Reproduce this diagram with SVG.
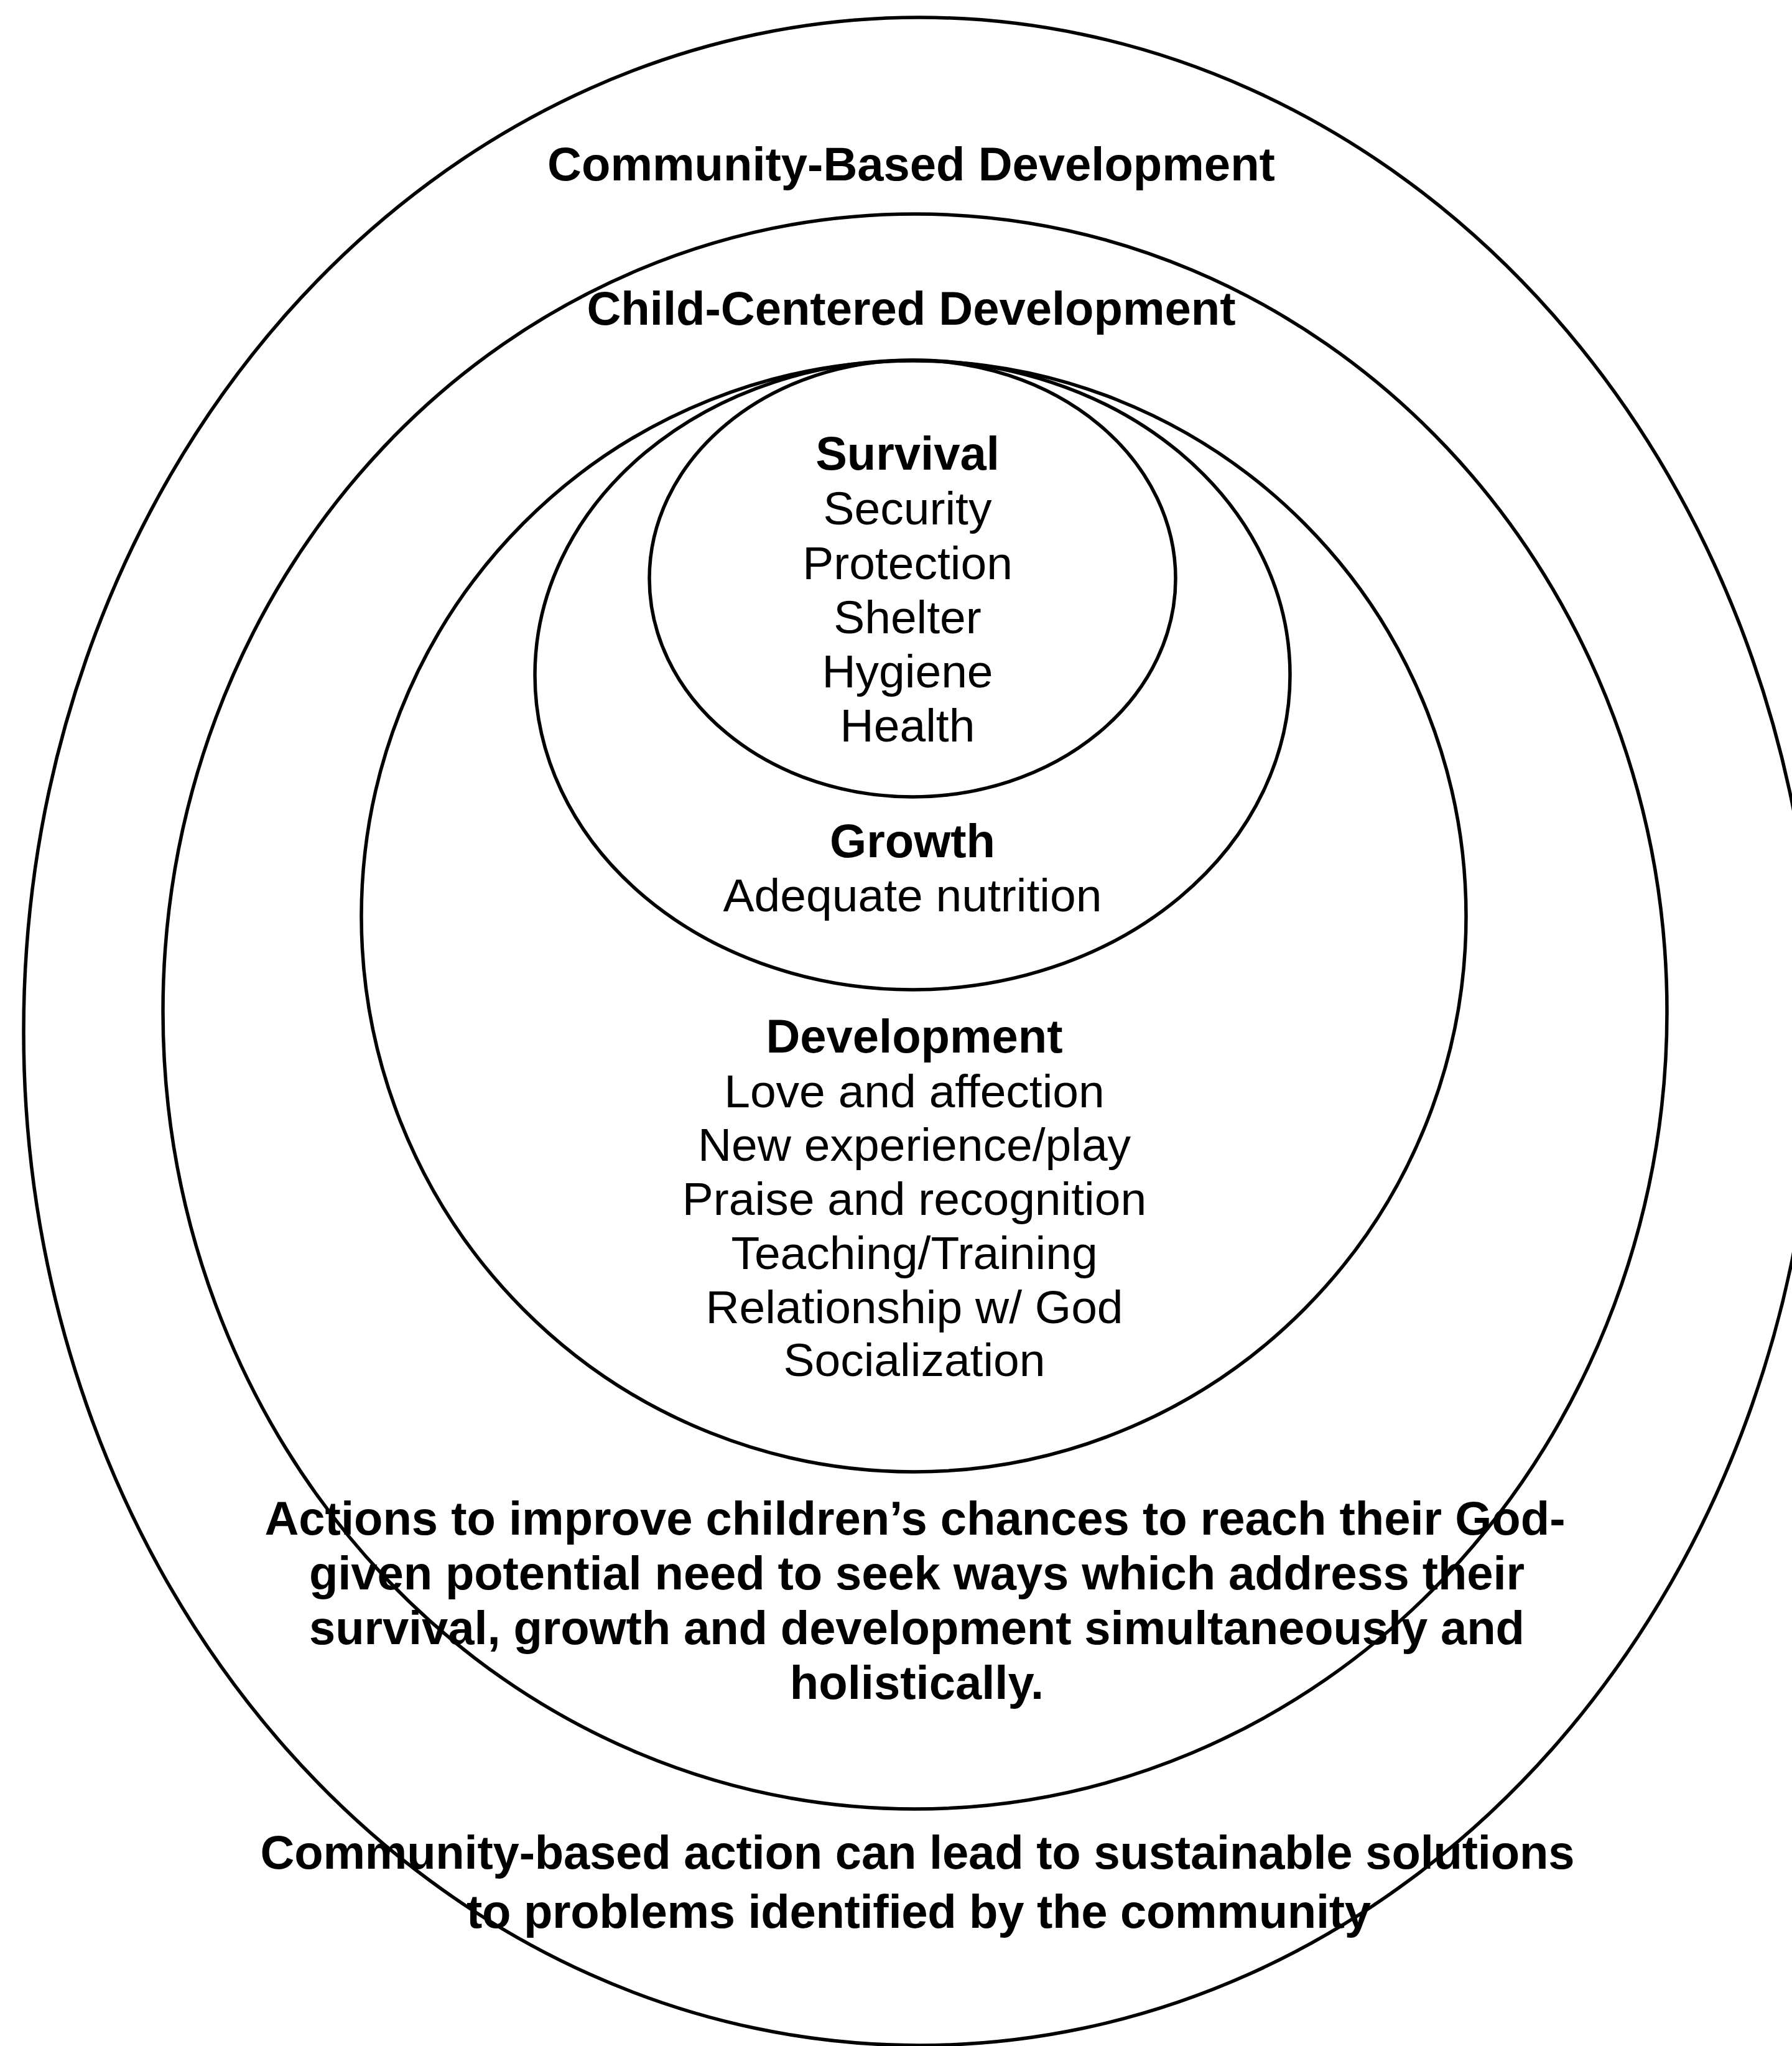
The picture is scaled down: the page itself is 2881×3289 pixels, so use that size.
<svg xmlns="http://www.w3.org/2000/svg" width="2881" height="3289" viewBox="0 0 2881 3289">
<style>
.ring{fill:none;stroke:#000;stroke-width:5.5}
text{font-family:"Liberation Sans",Arial,sans-serif;fill:#000;text-anchor:middle}
.b{font-weight:bold;font-size:76px}
.r{font-size:75px}
</style>
<rect x="0" y="0" width="2881" height="3289" fill="#fff"/>
<g id="community-based">
<ellipse class="ring" cx="1478" cy="1658" rx="1440" ry="1630"/>
<text class="b" x="1465" y="290">Community-Based Development</text>
<text class="b" x="1475" y="3004" textLength="2113" lengthAdjust="spacing">Community-based action can lead to sustainable solutions</text>
<text class="b" x="1477" y="3099" textLength="1454" lengthAdjust="spacing">to problems identified by the community</text>
</g>
<g id="child-centered">
<ellipse class="ring" cx="1471" cy="1626" rx="1209" ry="1282"/>
<text class="b" x="1465" y="522">Child-Centered Development</text>
<text class="b" x="1471" y="2467" textLength="2091" lengthAdjust="spacing">Actions to improve children’s chances to reach their God-</text>
<text class="b" x="1474" y="2555" textLength="1954" lengthAdjust="spacing">given potential need to seek ways which address their</text>
<text class="b" x="1474" y="2643" textLength="1954" lengthAdjust="spacing">survival, growth and development simultaneously and</text>
<text class="b" x="1474" y="2731">holistically.</text>
</g>
<g id="development">
<ellipse class="ring" cx="1469" cy="1473" rx="888" ry="893"/>
<text class="b" x="1470" y="1692">Development</text>
<text class="r" x="1470" y="1780">Love and affection</text>
<text class="r" x="1470" y="1866">New experience/play</text>
<text class="r" x="1470" y="1953">Praise and recognition</text>
<text class="r" x="1470" y="2040">Teaching/Training</text>
<text class="r" x="1470" y="2127">Relationship w/ God</text>
<text class="r" x="1470" y="2212">Socialization</text>
</g>
<g id="growth">
<ellipse class="ring" cx="1467" cy="1085" rx="607" ry="506"/>
<text class="b" x="1467" y="1378">Growth</text>
<text class="r" x="1467" y="1465">Adequate nutrition</text>
</g>
<g id="survival">
<ellipse class="ring" cx="1467" cy="930" rx="423" ry="351"/>
<text class="b" x="1459" y="755">Survival</text>
<text class="r" x="1459" y="843">Security</text>
<text class="r" x="1459" y="931">Protection</text>
<text class="r" x="1459" y="1018">Shelter</text>
<text class="r" x="1459" y="1105">Hygiene</text>
<text class="r" x="1459" y="1192">Health</text>
</g>
<g id="connectors"/>
</svg>
